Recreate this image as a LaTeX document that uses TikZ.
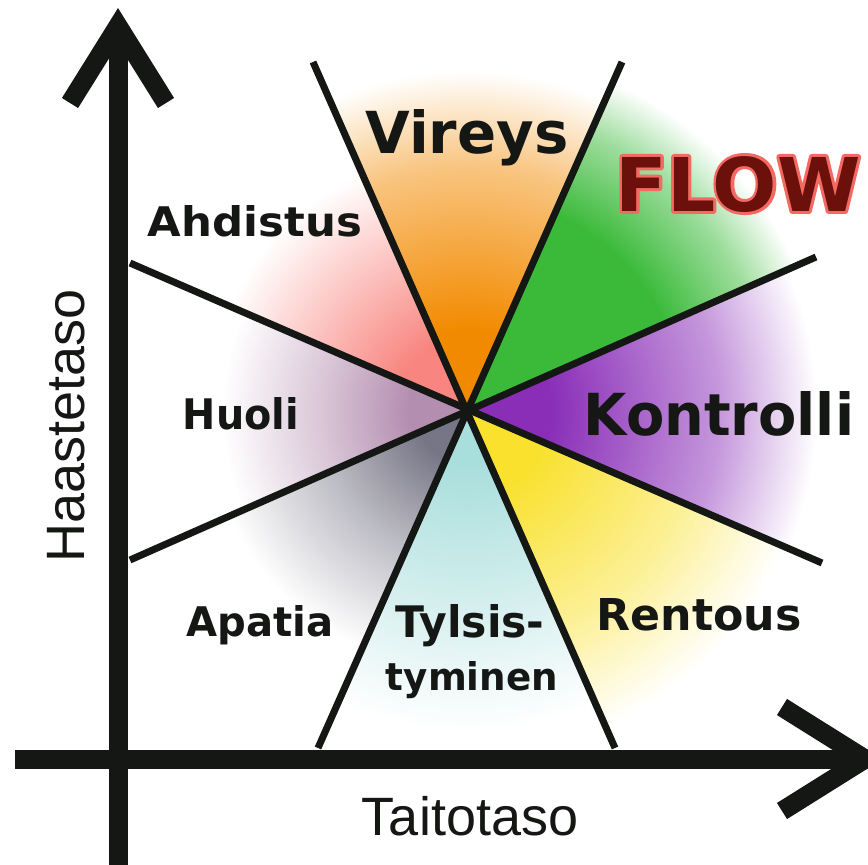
\documentclass[tikz,border=0pt]{standalone}
\usepackage{fontspec}
\usepackage{graphicx}
\usetikzlibrary{calc}
\newfontfamily\lblfont{DejaVu Sans}
\newfontfamily\axfont{Liberation Sans}
\definecolor{ink}{HTML}{151715}
\definecolor{corange}{HTML}{F28A00}
\definecolor{cgreen}{HTML}{3BBA3A}
\definecolor{cpurple}{HTML}{8A2EB8}
\definecolor{cyellow}{HTML}{F9E12E}
\definecolor{ccyan}{HTML}{A8DEDC}
\definecolor{cgrey}{HTML}{777686}
\definecolor{cmauve}{HTML}{B48EB0}
\definecolor{cpink}{HTML}{F8857F}
\definecolor{flowfill}{HTML}{6B100B}
\definecolor{flowout}{HTML}{F26A62}
\newcommand\mkshade[4]{\pgfdeclareradialshading{#1}{\pgfpoint{0bp}{0bp}}{color(0bp)=(#2); color(#3bp)=(#2); color(#4bp)=(#2!50!white); color(25bp)=(white); color(50bp)=(white)}}
\mkshade{shorange}{corange}{6}{18}
\mkshade{shgreen}{cgreen}{15}{21}
\mkshade{shpurple}{cpurple}{6}{18}
\mkshade{shyellow}{cyellow}{6}{17}
\mkshade{shcyan}{ccyan}{4}{15}
\mkshade{shgrey}{cgrey}{5}{14}
\mkshade{shmauve}{cmauve}{6}{15}
\mkshade{shpink}{cpink}{7}{16}
\newcommand\sectorfill[4]{\begin{scope}\clip (C) -- ($(C)!4!(#1)$) -- ($(C)!4!(#2)$) -- cycle; \shade[shading=#3] (C) circle (#4pt);\end{scope}}
\newcommand\lbltext[3]{\resizebox{#1pt}{#2pt}{\lblfont\bfseries #3}}
\newcommand\outlinedtext[1]{\rlap{\special{pdf:literal direct 1 Tr 0.8 w 0.949 0.416 0.384 RG 1 j}#1\special{pdf:literal direct 0 Tr}}#1}
\tikzset{
  secline/.style={line width=7pt, draw=ink, line cap=butt},
  axisline/.style={line width=19pt, draw=ink, line cap=butt, line join=miter},
  lbl/.style={inner sep=0pt, anchor=base, text=ink},
  axlbl/.style={inner sep=0pt, anchor=base, text=ink, font=\axfont\fontsize{54}{60}\selectfont}
}
\begin{document}
\begin{tikzpicture}[x=1pt,y=-1pt]
\useasboundingbox[fill=white] (0,0) rectangle (868,865);
\coordinate (C) at (467,411);
\coordinate (A1) at (313,62);
\coordinate (B1) at (615,748);
\coordinate (A2) at (622,62);
\coordinate (B2) at (318,748);
\coordinate (A3) at (130,263);
\coordinate (B3) at (822,563);
\coordinate (A4) at (130,560);
\coordinate (B4) at (816,257);
% sector gradients
\sectorfill{A1}{A2}{shorange}{340}
\sectorfill{A2}{B4}{shgreen}{360}
\sectorfill{B4}{B3}{shpurple}{350}
\sectorfill{B3}{B1}{shyellow}{345}
\sectorfill{B1}{B2}{shcyan}{320}
\sectorfill{B2}{A4}{shgrey}{260}
\sectorfill{A4}{A3}{shmauve}{245}
\sectorfill{A3}{A1}{shpink}{260}
% sector lines
\draw[secline] (A1) -- (B1);
\draw[secline] (A2) -- (B2);
\draw[secline] (A3) -- (B3);
\draw[secline] (A4) -- (B4);
% axes
\coordinate (yb) at (118,866);
\coordinate (yt) at (118,40);
\coordinate (yl) at (70,103);
\coordinate (yapex) at (118,26);
\coordinate (yr) at (166,103);
\coordinate (xl) at (15,759);
\coordinate (xr) at (850,759);
\coordinate (xu) at (782,707);
\coordinate (xapex) at (865,759);
\coordinate (xd) at (782,811);
\draw[axisline] (yb) -- (yt);
\draw[axisline] (yl) -- (yapex) -- (yr);
\draw[axisline] (xl) -- (xr);
\draw[axisline] (xu) -- (xapex) -- (xd);
% labels
\node[lbl] (vireys) at (467,153) {\lbltext{203}{44}{Vireys}};
\node[lbl, text=flowfill] (flow) at (738,211) {\lbltext{245}{55}{\outlinedtext{FLOW}}};
\node[lbl] (ahdistus) at (255,236) {\lbltext{214}{31}{Ahdistus}};
\node[lbl] (huoli) at (241,429) {\lbltext{116}{32}{Huoli}};
\node[lbl] (kontrolli) at (719,435) {\lbltext{270}{44}{Kontrolli}};
\node[lbl] (apatia) at (260,636) {\lbltext{147}{31}{Apatia}};
\node[lbl] (tylsis) at (470,637) {\lbltext{149}{33}{Tylsis-}};
\node[lbl] (tyminen) at (472,690) {\lbltext{172}{29}{tyminen}};
\node[lbl] (rentous) at (699,630) {\lbltext{205}{32}{Rentous}};
\node[axlbl, rotate=90] (haaste) at (84,426) {Haastetaso};
\node[axlbl] (taito) at (470,835) {Taitotaso};
\end{tikzpicture}
\end{document}
